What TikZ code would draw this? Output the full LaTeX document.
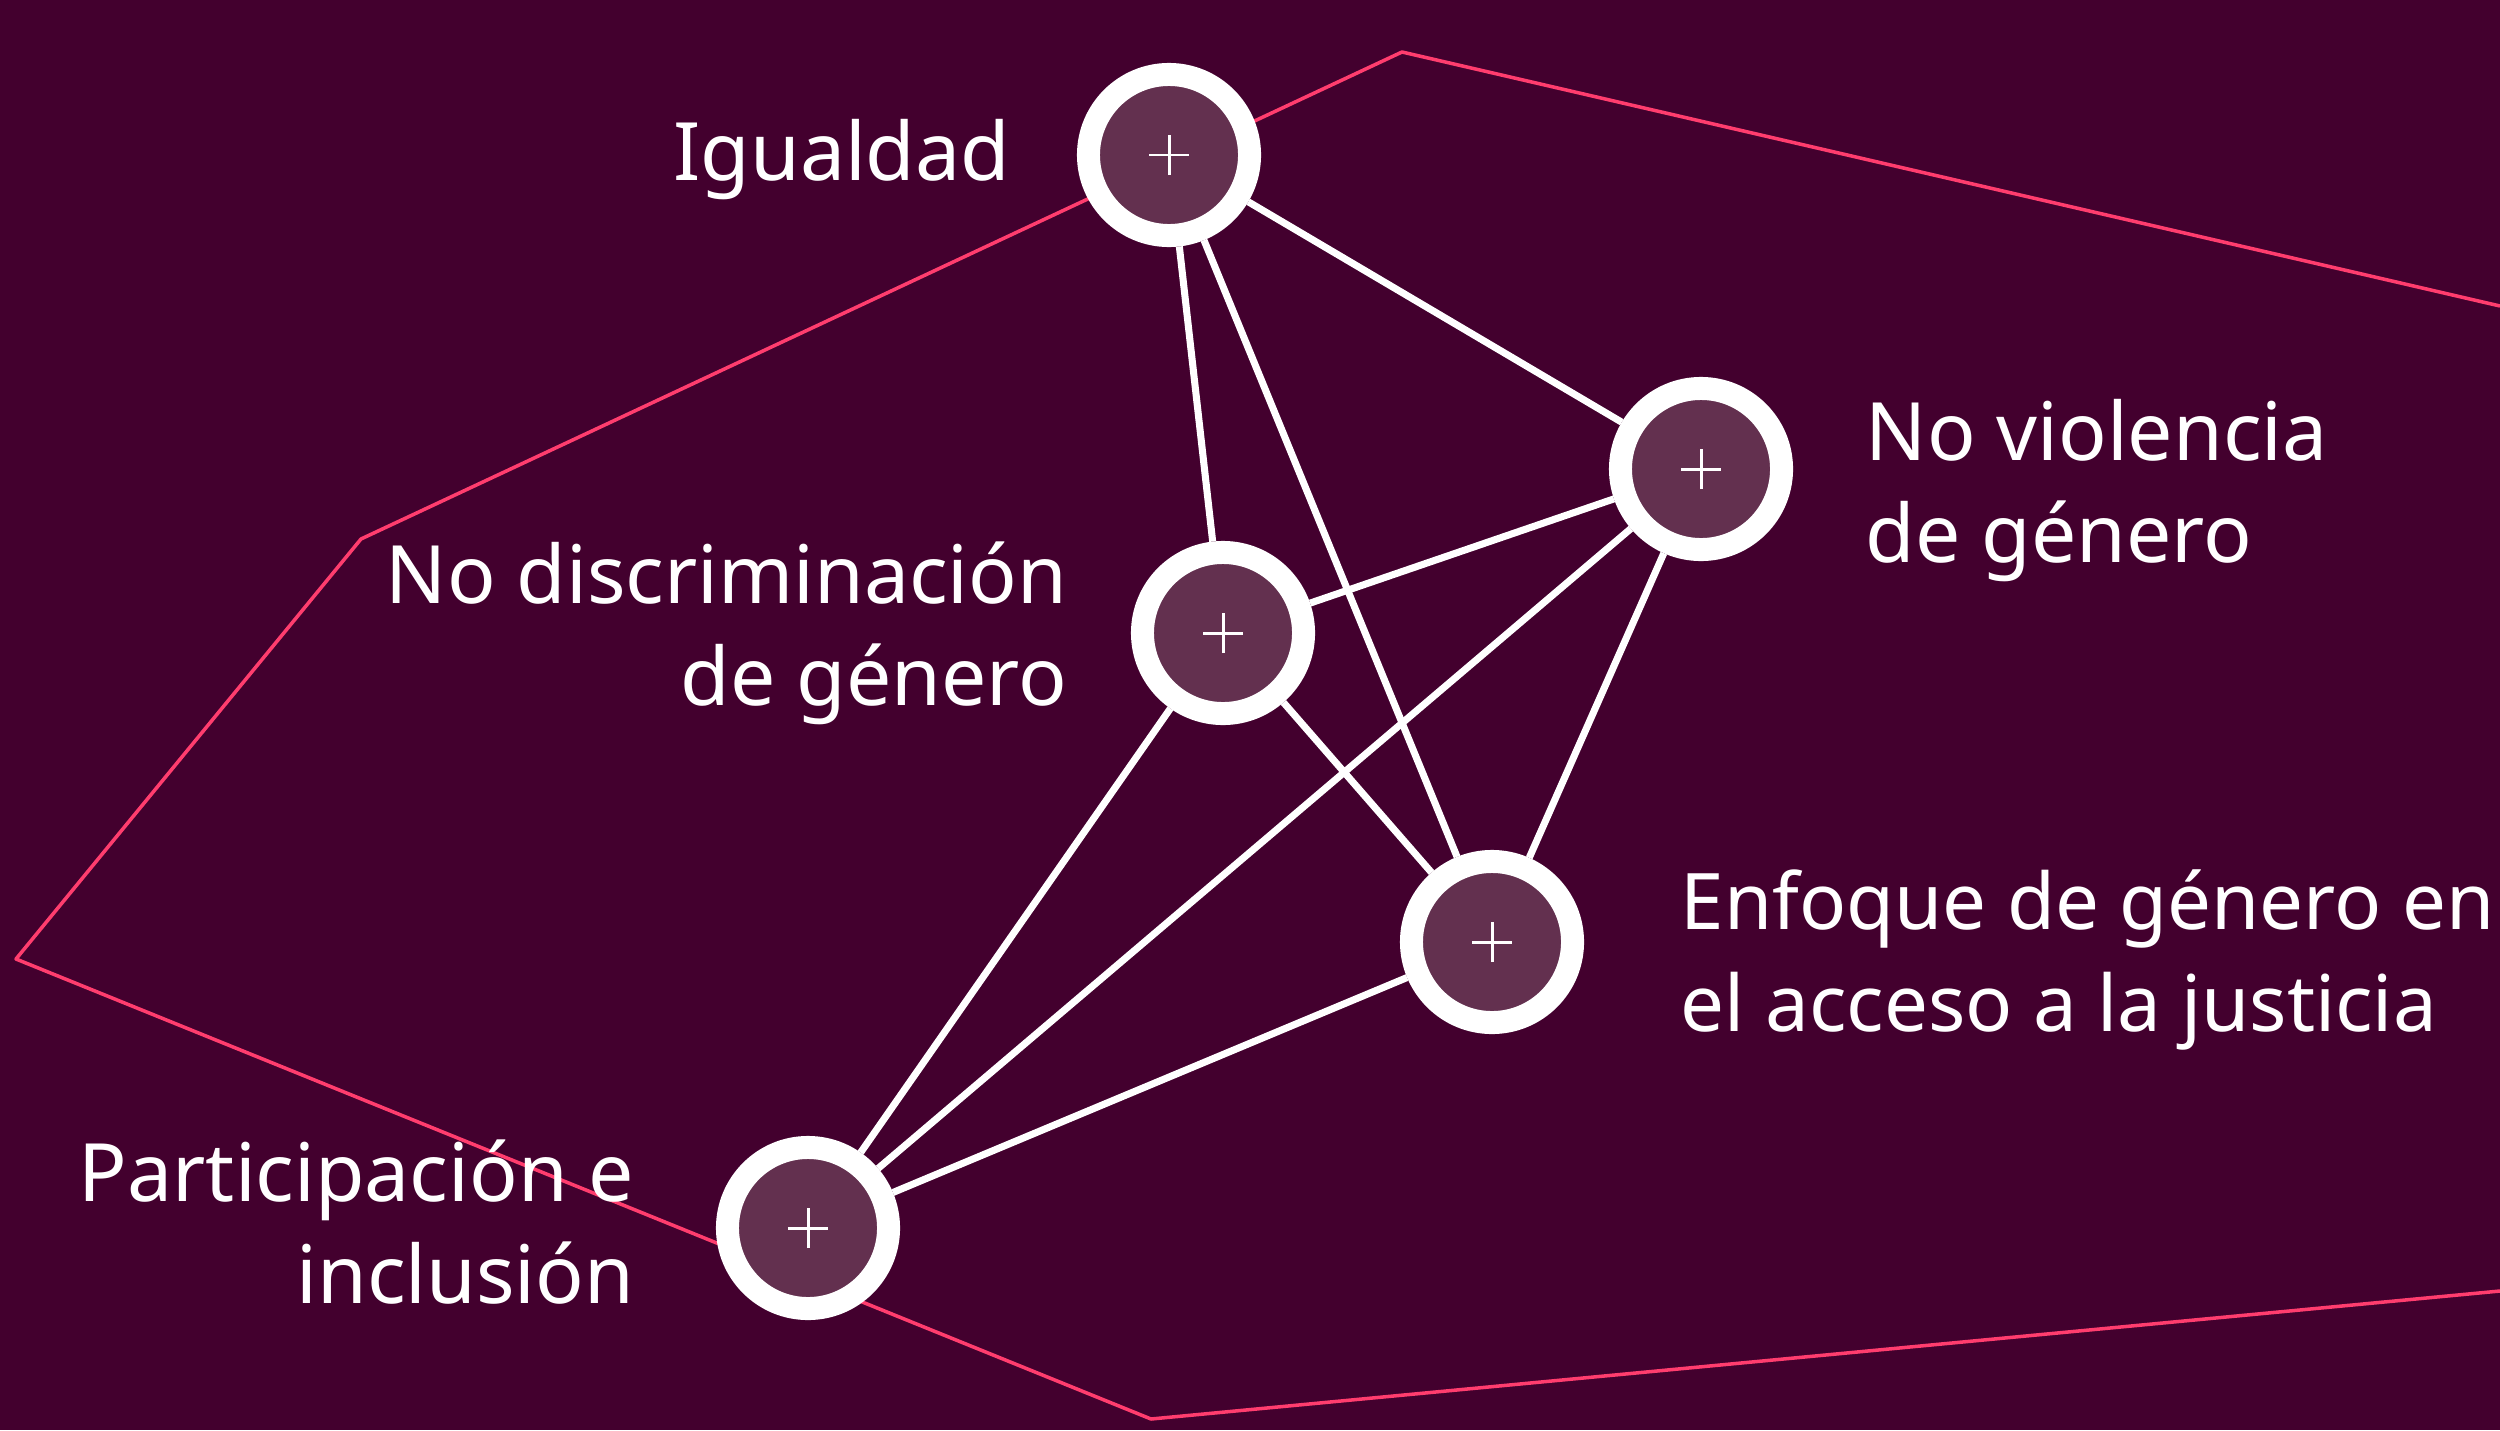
\documentclass[tikz,border=0pt]{standalone}
\usepackage{fontspec}
\setmainfont{Noto Sans}
\usetikzlibrary{positioning,backgrounds}
\definecolor{bgplum}{HTML}{43002E}
\definecolor{dotplum}{HTML}{63304F}
\definecolor{hotpink}{HTML}{FF3D6E}

\begin{document}
\begin{tikzpicture}[x=0.01cm, y=-0.01cm,
    topic/.style={circle, minimum size=1.61cm, inner sep=0, draw=white,
      line width=0.23cm, fill=dotplum,
      path picture={
        \draw [white, line width=0.85pt] (path picture bounding box.center)
          ++(-0.2cm,0) -- ++(0.4cm,0)
          (path picture bounding box.center) ++(0,-0.2cm) -- ++(0,0.4cm);
      }},
    lbl/.style={text=white, inner sep=0, font=\fontsize{22.9}{29}\selectfont},
    link/.style={white, line width=2pt}]
    \useasboundingbox (0,0) rectangle (2500,1430);
    \node [topic] (igualdad) at (1169,155) {};
    \node [topic] (noviol) at (1701,469) {};
    \node [topic] (nodisc) at (1223,633) {};
    \node [topic] (enfoque) at (1492,942) {};
    \node [topic] (partic) at (808,1228) {};

    \node [lbl, left=0.66cm of igualdad, yshift=-0.05cm] (igualdadtxt) {Igualdad};
    \node [lbl, right=0.72cm of noviol, yshift=-0.22cm, align=left] (noviotxt) {No violencia\\de género};
    \node [lbl, left=0.63cm of nodisc, align=right] (nodisctxt) {No discriminación\\de género};
    \node [lbl, right=0.96cm of enfoque, yshift=-0.18cm, align=left,
      font=\fontsize{22.2}{29}\selectfont] (enfoquetxt) {Enfoque de género en\\el acceso a la justicia};
    \node [lbl, left=0.81cm of partic, yshift=0.06cm, align=right] (partictxt) {Participación e\\inclusión};

    \begin{scope}[on background layer]
      \fill [bgplum] (0,0) rectangle (2500,1430);
      \draw [hotpink, line width=1pt, line join=round]
        (2500,306) -- (1402,52) -- (361,539) -- (16,959) -- (1151,1419) -- (2500,1291);
      \path [link] (igualdad) edge (noviol) ;
      \path [link] (igualdad) edge (nodisc) ;
      \path [link] (igualdad) edge (enfoque) ;
      \path [link] (nodisc) edge (noviol) ;
      \path [link] (nodisc) edge (enfoque) ;
      \path [link] (nodisc) edge (partic) ;
      \path [link] (noviol) edge (partic) ;
      \path [link] (noviol) edge (enfoque) ;
      \path [link] (enfoque) edge (partic) ;
    \end{scope}
  \end{tikzpicture}
\end{document}
